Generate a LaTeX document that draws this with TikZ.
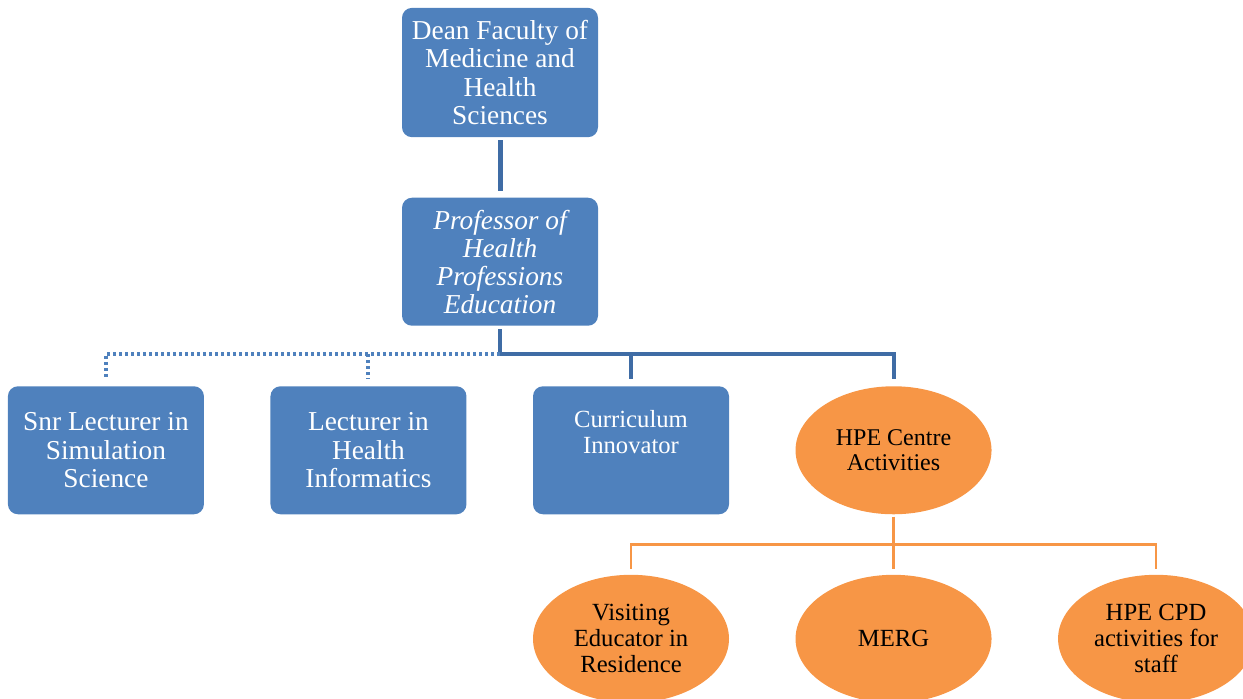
\documentclass[tikz,border=0pt]{standalone}
\usepackage{fontspec}
\setmainfont{Liberation Serif}
\usepackage{tikz}
\usetikzlibrary{positioning,shapes.geometric}

\definecolor{boxblue}{HTML}{4F81BD}
\definecolor{lineblue}{HTML}{3F6CA5}
\definecolor{hpeorange}{HTML}{F79646}

\begin{document}
\begin{tikzpicture}[node distance=45pt,
  post/.style={rectangle, rounded corners=7.5pt, fill=boxblue, text=white,
    minimum width=147pt, minimum height=96pt, inner sep=2pt, align=center,
    font=\fontsize{20.5}{21.2}\selectfont},
  activity/.style={ellipse, fill=hpeorange, text=black,
    minimum width=147pt, minimum height=96pt, inner sep=0pt, align=center,
    font=\fontsize{18.5}{19.5}\selectfont},
  toplink/.style={draw=lineblue, line width=3.75pt, shorten <=2.25pt, shorten >=4.5pt},
  solidlink/.style={draw=lineblue, line width=3pt, shorten <=2.25pt, shorten >=5.25pt},
  dottedlink/.style={draw=boxblue, line width=3pt, dash pattern=on 2.4pt off 2.1pt, shorten >=5.25pt},
  orangelink/.style={draw=hpeorange, line width=1.6pt, shorten <=1.5pt, shorten >=4.5pt}]

\useasboundingbox (0,0) rectangle (932.25pt,-524.25pt);

\node[post, minimum height=97pt] (dean) at (375pt,-54.4pt) {Dean Faculty of\\Medicine and\\Health\\Sciences};
\node[post, font=\fontsize{20.5}{21}\selectfont\itshape] (prof) [below=45pt of dean] {Professor of\\Health\\Professions\\Education};

\coordinate[below=21pt of prof] (bus);

\node[post, font=\fontsize{18.5}{19.5}\selectfont, text depth=27pt] (curr) [below=45pt of prof, xshift=98.25pt] {Curriculum\\Innovator};
\node[post] (lect) [left=49.5pt of curr] {Lecturer in\\Health\\Informatics};
\node[post] (snr)  [left=49.5pt of lect] {Snr Lecturer in\\Simulation\\Science};
\node[activity, font=\fontsize{18}{19}\selectfont] (hpe) [right=49.5pt of curr] {HPE Centre\\Activities};

\node[activity] (visit) [below=45pt of curr]   {Visiting\\Educator in\\Residence};
\node[activity] (merg)  [right=49.5pt of visit] {MERG};
\node[activity] (cpd)   [right=49.5pt of merg]  {HPE CPD\\activities for\\staff};

\coordinate[below=22.5pt of hpe] (obus);

% blue lines
\draw[toplink] (dean.south) -- (prof.north);
\draw[solidlink] (prof.south) -- (bus) -| (hpe.north);
\draw[solidlink, shorten <=0pt] (bus -| curr.north) -- (curr.north);
\draw[dottedlink] (bus) -| (snr.north);
\draw[dottedlink] (bus -| lect.north) -- (lect.north);

% orange lines
\draw[orangelink] (hpe.south) -- (merg.north);
\draw[orangelink, shorten <=4.5pt] (visit.north) |- (obus) -| (cpd.north);

\end{tikzpicture}
\end{document}
